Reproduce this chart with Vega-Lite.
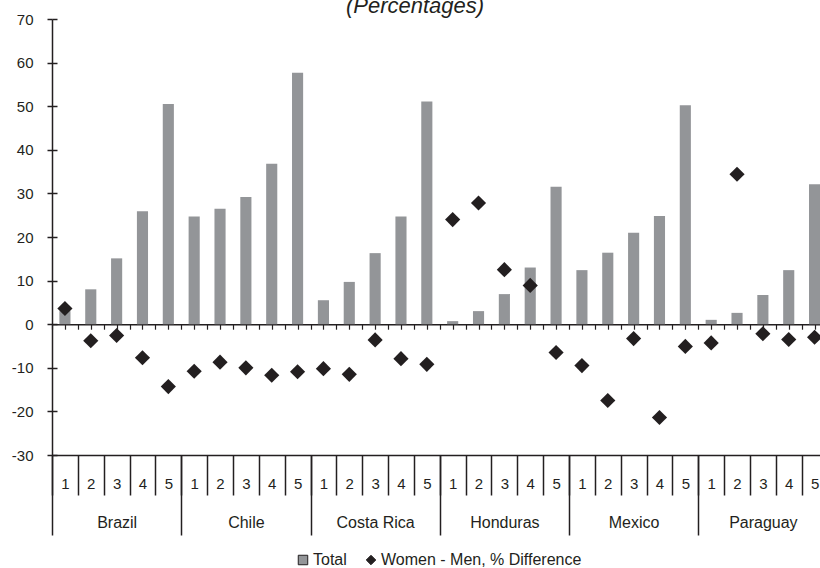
{
  "$schema": "https://vega.github.io/schema/vega-lite/v6.json",
  "width": 768,
  "height": 436,
  "autosize": {"type": "none"},
  "padding": {"left": 52, "top": 19, "right": 0, "bottom": 113},
  "config": {
    "view": {"stroke": null},
    "font": "Liberation Sans",
    "axis": {"domainColor": "#231f20", "tickColor": "#231f20", "labelColor": "#231f20", "grid": false, "title": null, "labelFont": "Liberation Sans"},
    "legend": {"labelFont": "Liberation Sans"}
  },
  "title": {"text": "(Percentages)", "font": "Liberation Sans", "fontSize": 22, "fontStyle": "italic", "fontWeight": "normal", "color": "#231f20", "anchor": "middle", "baseline": "alphabetic", "offset": 0, "dy": 23, "dx": -21},
  "data": {"values": [
    {"country": "Brazil", "key": "Brazil|1", "series": "Total", "value": 3.0},
    {"country": "Brazil", "key": "Brazil|2", "series": "Total", "value": 8.0},
    {"country": "Brazil", "key": "Brazil|3", "series": "Total", "value": 15.1},
    {"country": "Brazil", "key": "Brazil|4", "series": "Total", "value": 25.9},
    {"country": "Brazil", "key": "Brazil|5", "series": "Total", "value": 50.5},
    {"country": "Chile", "key": "Chile|1", "series": "Total", "value": 24.7},
    {"country": "Chile", "key": "Chile|2", "series": "Total", "value": 26.5},
    {"country": "Chile", "key": "Chile|3", "series": "Total", "value": 29.2},
    {"country": "Chile", "key": "Chile|4", "series": "Total", "value": 36.8},
    {"country": "Chile", "key": "Chile|5", "series": "Total", "value": 57.7},
    {"country": "Costa Rica", "key": "Costa Rica|1", "series": "Total", "value": 5.5},
    {"country": "Costa Rica", "key": "Costa Rica|2", "series": "Total", "value": 9.7},
    {"country": "Costa Rica", "key": "Costa Rica|3", "series": "Total", "value": 16.3},
    {"country": "Costa Rica", "key": "Costa Rica|4", "series": "Total", "value": 24.7},
    {"country": "Costa Rica", "key": "Costa Rica|5", "series": "Total", "value": 51.1},
    {"country": "Honduras", "key": "Honduras|1", "series": "Total", "value": 0.7},
    {"country": "Honduras", "key": "Honduras|2", "series": "Total", "value": 3.0},
    {"country": "Honduras", "key": "Honduras|3", "series": "Total", "value": 6.9},
    {"country": "Honduras", "key": "Honduras|4", "series": "Total", "value": 13.0},
    {"country": "Honduras", "key": "Honduras|5", "series": "Total", "value": 31.5},
    {"country": "Mexico", "key": "Mexico|1", "series": "Total", "value": 12.4},
    {"country": "Mexico", "key": "Mexico|2", "series": "Total", "value": 16.4},
    {"country": "Mexico", "key": "Mexico|3", "series": "Total", "value": 21.0},
    {"country": "Mexico", "key": "Mexico|4", "series": "Total", "value": 24.8},
    {"country": "Mexico", "key": "Mexico|5", "series": "Total", "value": 50.2},
    {"country": "Paraguay", "key": "Paraguay|1", "series": "Total", "value": 1.0},
    {"country": "Paraguay", "key": "Paraguay|2", "series": "Total", "value": 2.6},
    {"country": "Paraguay", "key": "Paraguay|3", "series": "Total", "value": 6.7},
    {"country": "Paraguay", "key": "Paraguay|4", "series": "Total", "value": 12.4},
    {"country": "Paraguay", "key": "Paraguay|5", "series": "Total", "value": 32.1},
    {"country": "Brazil", "key": "Brazil|1", "series": "Women - Men, % Difference", "value": 3.6},
    {"country": "Brazil", "key": "Brazil|2", "series": "Women - Men, % Difference", "value": -3.8},
    {"country": "Brazil", "key": "Brazil|3", "series": "Women - Men, % Difference", "value": -2.6},
    {"country": "Brazil", "key": "Brazil|4", "series": "Women - Men, % Difference", "value": -7.7},
    {"country": "Brazil", "key": "Brazil|5", "series": "Women - Men, % Difference", "value": -14.3},
    {"country": "Chile", "key": "Chile|1", "series": "Women - Men, % Difference", "value": -10.8},
    {"country": "Chile", "key": "Chile|2", "series": "Women - Men, % Difference", "value": -8.7},
    {"country": "Chile", "key": "Chile|3", "series": "Women - Men, % Difference", "value": -10.0},
    {"country": "Chile", "key": "Chile|4", "series": "Women - Men, % Difference", "value": -11.7},
    {"country": "Chile", "key": "Chile|5", "series": "Women - Men, % Difference", "value": -10.9},
    {"country": "Costa Rica", "key": "Costa Rica|1", "series": "Women - Men, % Difference", "value": -10.2},
    {"country": "Costa Rica", "key": "Costa Rica|2", "series": "Women - Men, % Difference", "value": -11.5},
    {"country": "Costa Rica", "key": "Costa Rica|3", "series": "Women - Men, % Difference", "value": -3.6},
    {"country": "Costa Rica", "key": "Costa Rica|4", "series": "Women - Men, % Difference", "value": -7.9},
    {"country": "Costa Rica", "key": "Costa Rica|5", "series": "Women - Men, % Difference", "value": -9.2},
    {"country": "Honduras", "key": "Honduras|1", "series": "Women - Men, % Difference", "value": 24.0},
    {"country": "Honduras", "key": "Honduras|2", "series": "Women - Men, % Difference", "value": 27.8},
    {"country": "Honduras", "key": "Honduras|3", "series": "Women - Men, % Difference", "value": 12.5},
    {"country": "Honduras", "key": "Honduras|4", "series": "Women - Men, % Difference", "value": 8.9},
    {"country": "Honduras", "key": "Honduras|5", "series": "Women - Men, % Difference", "value": -6.5},
    {"country": "Mexico", "key": "Mexico|1", "series": "Women - Men, % Difference", "value": -9.5},
    {"country": "Mexico", "key": "Mexico|2", "series": "Women - Men, % Difference", "value": -17.5},
    {"country": "Mexico", "key": "Mexico|3", "series": "Women - Men, % Difference", "value": -3.3},
    {"country": "Mexico", "key": "Mexico|4", "series": "Women - Men, % Difference", "value": -21.4},
    {"country": "Mexico", "key": "Mexico|5", "series": "Women - Men, % Difference", "value": -5.1},
    {"country": "Paraguay", "key": "Paraguay|1", "series": "Women - Men, % Difference", "value": -4.3},
    {"country": "Paraguay", "key": "Paraguay|2", "series": "Women - Men, % Difference", "value": 34.4},
    {"country": "Paraguay", "key": "Paraguay|3", "series": "Women - Men, % Difference", "value": -2.2},
    {"country": "Paraguay", "key": "Paraguay|4", "series": "Women - Men, % Difference", "value": -3.5},
    {"country": "Paraguay", "key": "Paraguay|5", "series": "Women - Men, % Difference", "value": -3.0}
  ]},
  "layer": [
    {
      "layer": [
        {
          "transform": [{"filter": "datum.series == 'Total'"}],
          "mark": {"type": "bar", "width": {"band": 0.43}},
          "encoding": {
            "x": {"field": "key", "type": "nominal", "sort": null,
              "scale": {"range": [0, 775.5], "paddingInner": 0, "paddingOuter": 0},
              "axis": {"orient": "bottom", "tickBand": "extent", "tickSize": 40, "tickWidth": 1.5, "domainWidth": 1.5,
                "labelExpr": "split(datum.value, '|')[1]", "labelAngle": 0, "labelAlign": "center", "labelBaseline": "middle",
                "labelPadding": -12, "labelFontSize": 15, "labelOverlap": false, "labelFlush": false, "labelBound": false}},
            "y": {"field": "value", "type": "quantitative",
              "scale": {"domain": [-30, 70], "nice": false, "zero": false},
              "axis": {"orient": "left", "values": [-30, -20, -10, 0, 10, 20, 30, 40, 50, 60, 70], "labelExpr": "replace(datum.label, '\u2212', '-')", "tickSize": 5, "tickWidth": 1.5, "domainWidth": 1.5, "labelPadding": 14, "labelFontSize": 15}},
            "color": {"field": "series", "type": "nominal",
              "scale": {"domain": ["Total", "Women - Men, % Difference"], "range": ["#939598", "#231f20"]},
              "legend": {"orient": "none", "legendX": 243, "legendY": 533, "direction": "horizontal", "title": null, "labelFontSize": 16, "labelLimit": 0, "labelColor": "#231f20", "symbolSize": 90, "symbolStrokeColor": "#231f20", "symbolStrokeWidth": 1, "columnPadding": 16, "labelOffset": 2}}
          }
        },
        {
          "transform": [{"filter": "datum.series != 'Total'"}],
          "mark": {"type": "point", "filled": true, "size": 230, "opacity": 1},
          "encoding": {
            "x": {"field": "key", "type": "nominal", "sort": null},
            "y": {"field": "value", "type": "quantitative"},
            "color": {"field": "series", "type": "nominal"},
            "shape": {"field": "series", "type": "nominal",
              "scale": {"domain": ["Total", "Women - Men, % Difference"], "range": ["square", "diamond"]}}
          }
        }
      ]
    },
    {
      "mark": {"type": "point", "opacity": 0},
      "encoding": {
        "x": {"field": "key", "type": "nominal", "sort": null,
          "scale": {"range": [0, 775.5], "paddingInner": 0, "paddingOuter": 0},
          "axis": {"orient": "bottom", "offset": -130.8, "tickBand": "extent", "tickSize": 5, "tickWidth": 1.2, "domainWidth": 1.5, "labels": false}},
        "y": {"field": "value", "type": "quantitative",
          "axis": {"orient": "left", "tickSize": -5, "tickWidth": 1.5, "domain": false, "labels": false, "values": [-30, -20, -10, 0, 10, 20, 30, 40, 50, 60, 70]}}
      }
    },
    {
      "mark": {"type": "point", "opacity": 0},
      "encoding": {
        "x": {"field": "key", "type": "nominal", "sort": null,
          "scale": {"range": [0, 775.5], "paddingInner": 0, "paddingOuter": 0},
          "axis": {"orient": "bottom", "offset": -130.8, "tickSize": 5, "tickWidth": 1.2, "domain": false, "labels": false}}
      }
    },
    {
      "mark": {"type": "point", "opacity": 0},
      "encoding": {
        "x": {"field": "country", "type": "nominal", "sort": null,
          "scale": {"range": [0, 775.5], "paddingInner": 0, "paddingOuter": 0},
          "axis": {"orient": "bottom", "tickBand": "extent", "tickSize": 80, "tickWidth": 1.5, "domain": false,
            "labelAngle": 0, "labelAlign": "center", "labelBaseline": "middle", "labelPadding": -13, "labelFontSize": 16, "labelOverlap": false, "labelFlush": false, "labelBound": false}}
      }
    }
  ],
  "resolve": {"scale": {"x": "independent"}, "axis": {"y": "independent"}}
}
